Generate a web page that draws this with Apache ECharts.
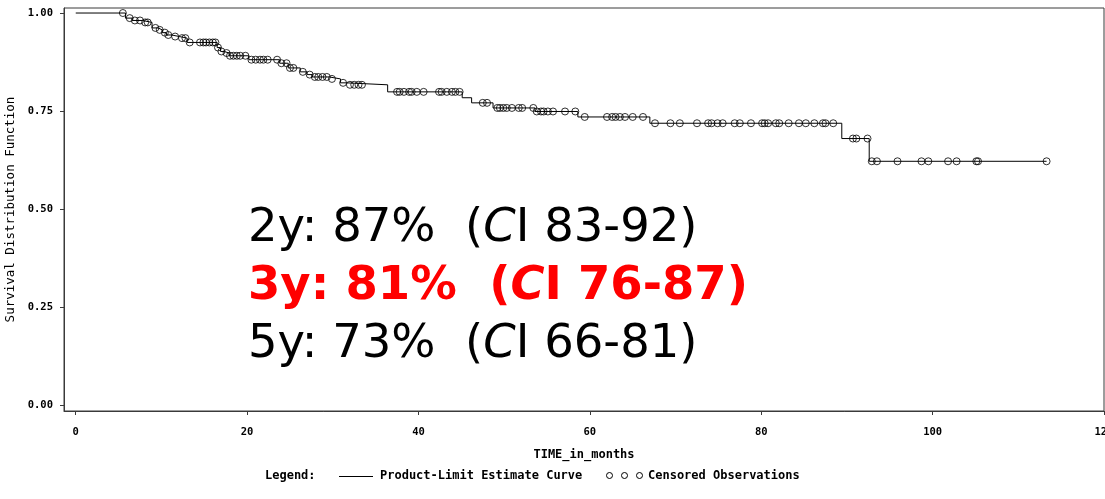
<!DOCTYPE html>
<html>
<head>
<meta charset="utf-8">
<script src="https://cdn.jsdelivr.net/npm/echarts@6/dist/echarts.min.js"></script>
<style>
  html, body { margin: 0; padding: 0; background: #fff; }
  #chart { width: 1105px; height: 499px; }
</style>
</head>
<body>
<div id="chart"></div>
<script>
// ---- data ----
// Kaplan-Meier step curve: survival level that holds from each time onward
const stepTimes = [0, 5.8, 6.6, 7.8, 8.9, 9.6, 10.1, 10.6, 11.2, 12.1, 13.0, 16.5, 16.9, 17.3, 17.9, 20.2, 23.8, 24.8, 26.2, 27.0, 27.6, 29.6, 30.9, 31.6, 36.4, 45.1, 46.2, 48.7, 53.6, 58.6, 67.0, 89.4, 92.6, 113.3];
const stepSurv  = [1.000, 0.987, 0.981, 0.976, 0.962, 0.957, 0.950, 0.944, 0.940, 0.936, 0.925, 0.912, 0.902, 0.898, 0.891, 0.881, 0.872, 0.860, 0.850, 0.843, 0.837, 0.832, 0.822, 0.817, 0.799, 0.784, 0.771, 0.758, 0.749, 0.735, 0.719, 0.680, 0.622, 0.622];
// censored observation times (months)
const censoredTimes = [5.5, 6.3, 6.9, 7.5, 8.1, 8.4, 9.3, 9.8, 10.4, 10.8, 11.6, 12.4, 12.8, 13.3, 14.5, 14.9, 15.2, 15.6, 16.0, 16.3, 16.6, 17.0, 17.6, 18.0, 18.4, 18.8, 19.2, 19.8, 20.5, 21.0, 21.5, 21.9, 22.4, 23.5, 24.0, 24.6, 25.0, 25.4, 26.5, 27.3, 27.9, 28.3, 28.8, 29.3, 29.9, 31.2, 32.0, 32.5, 33.0, 33.4, 37.5, 37.8, 38.3, 38.9, 39.2, 39.8, 40.6, 42.4, 42.7, 43.3, 43.9, 44.3, 44.8, 47.5, 48.0, 49.2, 49.5, 49.9, 50.3, 50.9, 51.7, 52.1, 53.4, 53.8, 54.3, 54.6, 55.1, 55.7, 57.1, 58.3, 59.4, 62.0, 62.6, 63.0, 63.5, 64.1, 65.0, 66.2, 67.6, 69.4, 70.5, 72.5, 73.8, 74.2, 74.9, 75.5, 76.9, 77.5, 78.8, 80.1, 80.4, 80.8, 81.7, 82.1, 83.2, 84.4, 85.2, 86.2, 87.2, 87.5, 88.4, 90.7, 91.1, 92.4, 92.9, 93.5, 95.9, 98.7, 99.5, 101.8, 102.8, 105.1, 105.3, 113.3];
const xTicks = [0, 20, 40, 60, 80, 100, 120];
const yTicks = [0, 0.25, 0.5, 0.75, 1.0];
const annotationLines = [
  { parts: ['2y: 87%  (', 'C', 'I 83-92)'], color: '#000000', weight: 'normal' },
  { parts: ['3y: 81%  (', 'C', 'I 76-87)'], color: '#ff0000', weight: 'bold' },
  { parts: ['5y: 73%  (', 'C', 'I 66-81)'], color: '#000000', weight: 'normal' }
];
const xTitle = 'TIME_in_months';
const yTitle = 'Survival Distribution Function';
const legendTexts = ['Legend:', 'Product-Limit Estimate Curve', 'Censored Observations'];

// ---- build series data ----
function survivalAt(t) {
  let s = stepSurv[0];
  for (let i = 0; i < stepTimes.length; i++) {
    if (stepTimes[i] <= t) s = stepSurv[i]; else break;
  }
  return s;
}
const curveData = stepTimes.map((t, i) => [t, stepSurv[i]]);
const censoredData = censoredTimes.map(t => [t, survivalAt(t)]);

const MONO = "'DejaVu Sans Mono', 'Liberation Mono', monospace";
const ANN_FONT = "'DejaVu Sans', sans-serif";
const AXIS_COLOR = '#3a3a3a';
const ANN_SIZE = 46.5;

const chart = echarts.init(document.getElementById('chart'), null, { renderer: 'canvas' });

const annGraphics = annotationLines.map((ln, i) => ({
  type: 'text',
  x: 248,
  y: [229, 287, 345][i],
  style: {
    text: ln.parts[0] + '{i|' + ln.parts[1] + '}' + ln.parts[2],
    fill: ln.color,
    fontFamily: ANN_FONT,
    fontSize: ANN_SIZE,
    fontWeight: ln.weight,
    verticalAlign: 'middle',
    align: 'left',
    rich: {
      i: { fontStyle: 'italic', fontFamily: ANN_FONT, fontSize: ANN_SIZE, fontWeight: ln.weight, fill: ln.color, color: ln.color }
    }
  },
  z: 100
}));

const legendGraphics = [
  { type: 'text', x: 265, y: 476, style: { text: legendTexts[0], fill: '#000', font: 'bold 12px ' + MONO, verticalAlign: 'middle' } },
  { type: 'line', shape: { x1: 339, y1: 476.5, x2: 373, y2: 476.5 }, style: { stroke: '#000', lineWidth: 1 } },
  { type: 'text', x: 380, y: 476, style: { text: legendTexts[1], fill: '#000', font: 'bold 12px ' + MONO, verticalAlign: 'middle' } },
  { type: 'circle', shape: { cx: 609.5, cy: 475.5, r: 3 }, style: { fill: 'none', stroke: '#000', lineWidth: 1 } },
  { type: 'circle', shape: { cx: 624.5, cy: 475.5, r: 3 }, style: { fill: 'none', stroke: '#000', lineWidth: 1 } },
  { type: 'circle', shape: { cx: 639.5, cy: 475.5, r: 3 }, style: { fill: 'none', stroke: '#000', lineWidth: 1 } },
  { type: 'text', x: 648, y: 476, style: { text: legendTexts[2], fill: '#000', font: 'bold 12px ' + MONO, verticalAlign: 'middle' } }
];

chart.setOption({
  animation: false,
  backgroundColor: '#ffffff',
  grid: {
    left: 64, top: 8, width: 1040, height: 403,
    outerBoundsMode: 'none',
    show: true, borderColor: AXIS_COLOR, borderWidth: 1, backgroundColor: 'transparent'
  },
  xAxis: {
    type: 'value',
    min: -1.37, max: 120,
    name: xTitle,
    nameLocation: 'middle',
    nameGap: 38,
    nameTextStyle: { fontFamily: MONO, fontWeight: 'bold', fontSize: 12, color: '#000' },
    axisLine: { show: true, onZero: false, lineStyle: { color: AXIS_COLOR, width: 1 } },
    axisTick: { show: true, inside: false, length: 4, customValues: xTicks, lineStyle: { color: AXIS_COLOR } },
    axisLabel: { show: true, customValues: xTicks, margin: 16, fontFamily: MONO, fontWeight: 'bold', fontSize: 10.5, color: '#000', formatter: v => String(v) },
    splitLine: { show: false }
  },
  yAxis: {
    type: 'value',
    min: -0.0146, max: 1.0128,
    name: yTitle,
    nameLocation: 'middle',
    nameGap: 40,
    nameRotate: 90,
    nameTextStyle: { fontFamily: MONO, fontWeight: 'normal', fontSize: 12.5, color: '#000' },
    axisLine: { show: true, onZero: false, lineStyle: { color: AXIS_COLOR, width: 1 } },
    axisTick: { show: true, inside: false, length: 4, customValues: yTicks, lineStyle: { color: AXIS_COLOR } },
    axisLabel: { show: true, customValues: yTicks, margin: 11, fontFamily: MONO, fontWeight: 'bold', fontSize: 10.5, color: '#000', formatter: v => v.toFixed(2) },
    splitLine: { show: false }
  },
  series: [
    {
      name: 'Product-Limit Estimate Curve',
      type: 'line',
      step: 'end',
      data: curveData,
      showSymbol: false,
      symbol: 'none',
      lineStyle: { color: '#000', width: 1 },
      z: 2
    },
    {
      name: 'Censored Observations',
      type: 'scatter',
      data: censoredData,
      symbol: 'circle',
      symbolSize: 7,
      itemStyle: { color: 'rgba(0,0,0,0)', borderColor: '#000', borderWidth: 1 },
      z: 3
    }
  ],
  graphic: annGraphics.concat(legendGraphics)
});
</script>
</body>
</html>
